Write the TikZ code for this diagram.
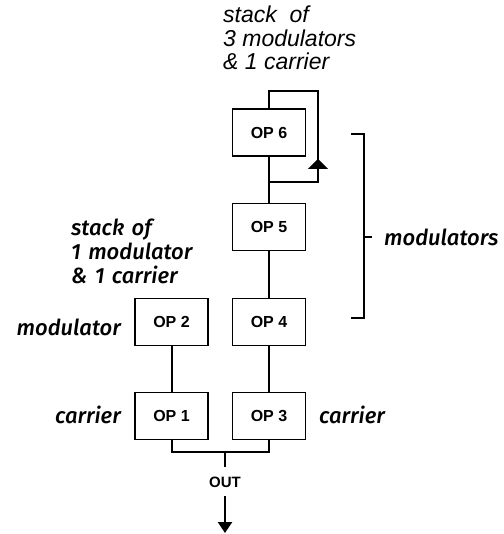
\documentclass[tikz,border=0pt]{standalone}
\usepackage{fontspec}
\setmainfont{Liberation Sans}
\newfontfamily\labfont{Fira Sans Medium}[ItalicFont={Fira Sans Medium Italic}]
\usetikzlibrary{arrows.meta}
\begin{document}
\begin{tikzpicture}[x=1pt,y=-1pt,
  opbox/.style={draw, line width=1.8pt, minimum width=73pt, minimum height=47pt, inner sep=0pt, font=\bfseries\fontsize{16}{18}\selectfont},
  wire/.style={line width=2pt},
  lbl/.style={font=\labfont\itshape\fontsize{22}{24}\selectfont, inner sep=0pt},
  toplbl/.style={font=\itshape\fontsize{23}{23.5}\selectfont, inner sep=0pt, align=left}]
\useasboundingbox (0,0) rectangle (503,534);
\node[opbox] (op1) at (171.5,416) {OP 1};
\node[opbox] (op3) at (269,416) {OP 3};
\node[opbox] (op2) at (171.5,322) {OP 2};
\node[opbox] (op4) at (269,322) {OP 4};
\node[opbox] (op5) at (269,227) {OP 5};
\node[opbox] (op6) at (269,132.5) {OP 6};
% connections
\draw[wire] (op2) -- (op1);
\draw[wire] (op4) -- (op3);
\draw[wire] (op5) -- (op4);
\draw[wire] (op6) -- (op5);
% feedback loop
\coordinate (fb1) at (269,182);
\coordinate (fb2) at (318,182);
\coordinate (fb3) at (318,91);
\coordinate (fb4) at (269,91);
\coordinate (fbarrow) at (318,159);
\draw[wire] (fb1) -- (fb2) -- (fb3) -- (fb4) -- (op6.north);
\draw[wire, -{Triangle[width=20pt,length=10pt]}] (fb2) -- (fbarrow);
% output
\coordinate (o1) at (171.5,452);
\coordinate (o2) at (269,452);
\coordinate (om) at (225,452);
\coordinate (omb) at (225,467);
\draw[wire] (op1.south) -- (o1) -- (o2) -- (op3.south);
\draw[wire] (om) -- (omb);
\node[font=\bfseries\fontsize{15}{17}\selectfont, inner sep=0pt] (out) at (225,482) {OUT};
\coordinate (arrs) at (225,496);
\coordinate (arre) at (225,533);
\draw[line width=2.4pt, -{Triangle[width=14pt,length=11pt]}] (arrs) -- (arre);
% bracket
\coordinate (b1) at (351,134);
\coordinate (b2) at (364,134);
\coordinate (b3) at (364,318);
\coordinate (b4) at (351,318);
\coordinate (bm) at (364,237);
\coordinate (bt) at (372,237);
\draw[line width=2.6pt] (b1) -- (b2) -- (b3) -- (b4);
\draw[line width=2.6pt] (bm) -- (bt);
% labels
\node[lbl, anchor=west] (mods) at (384,237) {modulators};
\node[lbl, anchor=east] (modl) at (121,327) {modulator};
\node[lbl, anchor=east] (carl) at (121,415) {carrier};
\node[lbl, anchor=west] (carr) at (319,415) {carrier};
\node[lbl, anchor=north west, align=left, text width=150pt] (stack1) at (71,219) {stack of\\1 modulator\\\& 1 carrier};
\node[toplbl, anchor=north west] (stack3) at (223,6) {stack\ \ of\\3 modulators\\\& 1 carrier};
\end{tikzpicture}
\end{document}
